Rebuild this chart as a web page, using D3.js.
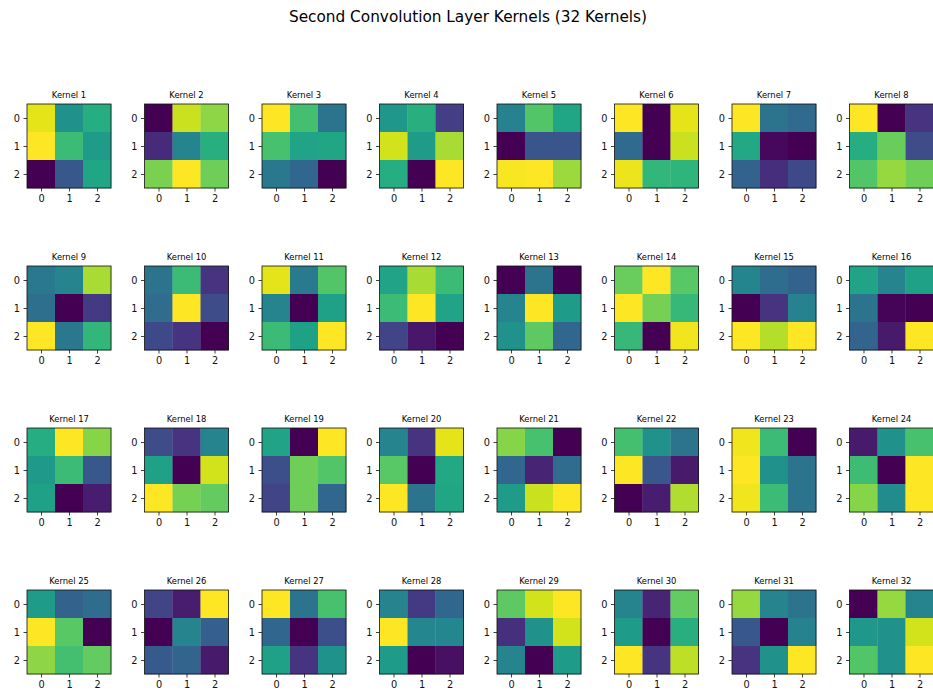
<!DOCTYPE html>
<html>
<head>
<meta charset="utf-8">
<script src="https://cdn.jsdelivr.net/npm/d3@7"></script>
<style>
  html, body { margin: 0; padding: 0; background: #fff; }
  svg { display: block; font-family: "DejaVu Sans", sans-serif; }
  .tick text { fill: #111; }
  .tick line { stroke: #111; stroke-width: 0.8; }
  .domain { display: none; }
</style>
</head>
<body>
<svg id="chart" width="933" height="693"></svg>
<script>
// Normalised 3x3 weights for each of the 32 kernels (row-major, rows 0..2)
const kernelNames = d3.range(1, 33).map(i => "Kernel " + i);
const tickLabels = [0, 1, 2];

const kernelWeights = [
  [[0.96, 0.50, 0.62], [1.00, 0.68, 0.55], [0.00, 0.27, 0.59]],
  [[0.00, 0.92, 0.83], [0.12, 0.45, 0.63], [0.80, 1.00, 0.78]],
  [[1.00, 0.70, 0.38], [0.71, 0.58, 0.59], [0.40, 0.33, 0.00]],
  [[0.53, 0.63, 0.18], [0.93, 0.55, 0.87], [0.62, 0.00, 1.00]],
  [[0.44, 0.73, 0.59], [0.00, 0.26, 0.26], [0.99, 1.00, 0.85]],
  [[1.00, 0.00, 0.96], [0.34, 0.00, 0.92], [0.97, 0.66, 0.65]],
  [[1.00, 0.38, 0.34], [0.60, 0.02, 0.00], [0.31, 0.13, 0.22]],
  [[1.00, 0.00, 0.15], [0.62, 0.77, 0.23], [0.73, 0.84, 0.78]],
  [[0.40, 0.45, 0.87], [0.36, 0.00, 0.17], [1.00, 0.40, 0.66]],
  [[0.38, 0.68, 0.15], [0.35, 1.00, 0.23], [0.22, 0.15, 0.00]],
  [[0.96, 0.41, 0.73], [0.45, 0.00, 0.57], [0.68, 0.57, 1.00]],
  [[0.58, 0.87, 0.68], [0.68, 1.00, 0.58], [0.20, 0.06, 0.00]],
  [[0.00, 0.38, 0.00], [0.45, 1.00, 0.55], [0.50, 0.75, 0.33]],
  [[0.77, 1.00, 0.74], [1.00, 0.79, 0.67], [0.67, 0.00, 0.98]],
  [[0.45, 0.35, 0.31], [0.00, 0.15, 0.44], [0.99, 0.88, 0.99]],
  [[0.58, 0.45, 0.57], [0.38, 0.01, 0.00], [0.32, 0.07, 1.00]],
  [[0.62, 1.00, 0.82], [0.54, 0.68, 0.27], [0.57, 0.00, 0.08]],
  [[0.23, 0.15, 0.45], [0.57, 0.00, 0.93], [1.00, 0.79, 0.76]],
  [[0.58, 0.00, 1.00], [0.24, 0.78, 0.73], [0.20, 0.78, 0.33]],
  [[0.45, 0.15, 0.96], [0.74, 0.00, 0.60], [1.00, 0.38, 0.59]],
  [[0.82, 0.71, 0.00], [0.33, 0.10, 0.35], [0.55, 0.92, 1.00]],
  [[0.70, 0.50, 0.38], [1.00, 0.27, 0.07], [0.00, 0.08, 0.88]],
  [[0.98, 0.68, 0.00], [1.00, 0.50, 0.38], [0.98, 0.68, 0.38]],
  [[0.07, 0.50, 0.71], [0.69, 0.00, 1.00], [0.82, 0.48, 1.00]],
  [[0.55, 0.31, 0.35], [1.00, 0.74, 0.00], [0.83, 0.70, 0.76]],
  [[0.20, 0.08, 1.00], [0.00, 0.45, 0.30], [0.28, 0.32, 0.07]],
  [[1.00, 0.38, 0.71], [0.33, 0.00, 0.24], [0.57, 0.15, 0.51]],
  [[0.45, 0.17, 0.33], [1.00, 0.46, 0.46], [0.55, 0.00, 0.04]],
  [[0.75, 0.93, 1.00], [0.14, 0.50, 0.93], [0.45, 0.00, 0.55]],
  [[0.45, 0.10, 0.76], [0.55, 0.00, 0.63], [1.00, 0.15, 0.90]],
  [[0.84, 0.45, 0.38], [0.27, 0.00, 0.44], [0.15, 0.50, 1.00]],
  [[0.00, 0.84, 0.45], [0.53, 0.50, 0.93], [0.73, 0.50, 1.00]]
];

const svg = d3.select("#chart");
const nCols = 8, nRows = 4;

// Grid of panels
const colBand = d3.scaleBand().domain(d3.range(nCols)).range([27, 933.5]).paddingInner(0.285).paddingOuter(0);
const rowBand = d3.scaleBand().domain(d3.range(nRows)).range([104, 674]).paddingInner(0.4815).paddingOuter(0);
const size = colBand.bandwidth();

// Cell positions inside a panel
const cell = d3.scaleBand().domain(tickLabels).range([0, size]);

svg.append("text")
  .attr("x", 468)
  .attr("y", 21.5)
  .attr("text-anchor", "middle")
  .attr("font-size", "15.3px")
  .attr("fill", "#000")
  .text("Second Convolution Layer Kernels (32 Kernels)");

kernelWeights.forEach((k, i) => {
  const col = i % nCols, row = Math.floor(i / nCols);
  const g = svg.append("g")
    .attr("transform", `translate(${colBand(col)},${rowBand(row)})`);

  const flat = k.flat();
  const color = d3.scaleSequential(d3.interpolateViridis).domain(d3.extent(flat));

  const cells = [];
  k.forEach((r, ri) => r.forEach((v, ci) => cells.push({ r: ri, c: ci, v })));

  g.selectAll("rect.cell")
    .data(cells)
    .join("rect")
    .attr("class", "cell")
    .attr("x", d => cell(d.c))
    .attr("y", d => cell(d.r))
    .attr("width", cell.bandwidth() + 0.3)
    .attr("height", cell.bandwidth() + 0.3)
    .attr("fill", d => color(d.v));

  g.append("rect")
    .attr("width", size)
    .attr("height", size)
    .attr("fill", "none")
    .attr("stroke", "#111")
    .attr("stroke-width", 0.8);

  const tickScale = d3.scalePoint().domain(tickLabels).range([cell.bandwidth() / 2, size - cell.bandwidth() / 2]);

  g.append("g")
    .attr("transform", `translate(0,${size})`)
    .call(d3.axisBottom(tickScale).tickSize(3.5).tickPadding(3.5))
    .call(a => a.selectAll("text").attr("font-size", "9.8px").attr("font-family", "DejaVu Sans, sans-serif"));

  g.append("g")
    .call(d3.axisLeft(tickScale).tickSize(3.5).tickPadding(3.5))
    .call(a => a.selectAll("text").attr("font-size", "9.8px").attr("font-family", "DejaVu Sans, sans-serif"));

  g.append("text")
    .attr("x", size / 2)
    .attr("y", -6)
    .attr("text-anchor", "middle")
    .attr("font-size", "8.4px")
    .attr("fill", "#000")
    .text(kernelNames[i]);
});
</script>
</body>
</html>
